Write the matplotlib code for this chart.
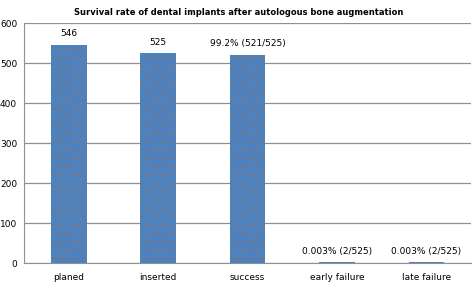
import matplotlib.pyplot as plt
import numpy as np

categories = ["planed", "inserted", "success", "early failure", "late failure"]
values = [546, 525, 521, 2, 2]
labels = ["546", "525", "99.2% (521/525)", "0.003% (2/525)", "0.003% (2/525)"]

plt.rcParams["font.family"] = "DejaVu Sans"
plt.rcParams["hatch.linewidth"] = 0.3

fig = plt.figure(figsize=(4.73, 2.82), dpi=100)
ax = fig.add_axes([0.051, 0.067, 0.945, 0.851])

x = np.arange(len(categories))
bars = ax.bar(x, values, width=0.4, color="#4F81BD", edgecolor="#9A6A4A",
              linewidth=0, hatch="..", zorder=3)

for xi, v, lab in zip(x, values, labels):
    ax.text(xi, v + 16, lab, ha="center", va="bottom", fontsize=6.5)

ax.set_xlim(-0.5, len(categories) - 0.5)
ax.set_ylim(0, 600)
ax.set_yticks(range(0, 601, 100))
ax.set_xticks(x)
ax.set_xticklabels(categories)
ax.tick_params(axis="both", labelsize=6.5, length=0)
ax.tick_params(axis="y", pad=5)
ax.tick_params(axis="x", pad=7)

ax.grid(axis="y", color="#909090", linewidth=0.9, zorder=0)
for s in ["top", "right"]:
    ax.spines[s].set_visible(False)
ax.spines["left"].set_color("#909090")
ax.spines["bottom"].set_color("#909090")

fig.text(0.505, 0.955, "Survival rate of dental implants after autologous bone augmentation",
         ha="center", va="center", fontsize=6.0, fontweight="bold")

fig.savefig("out.png", dpi=100)
